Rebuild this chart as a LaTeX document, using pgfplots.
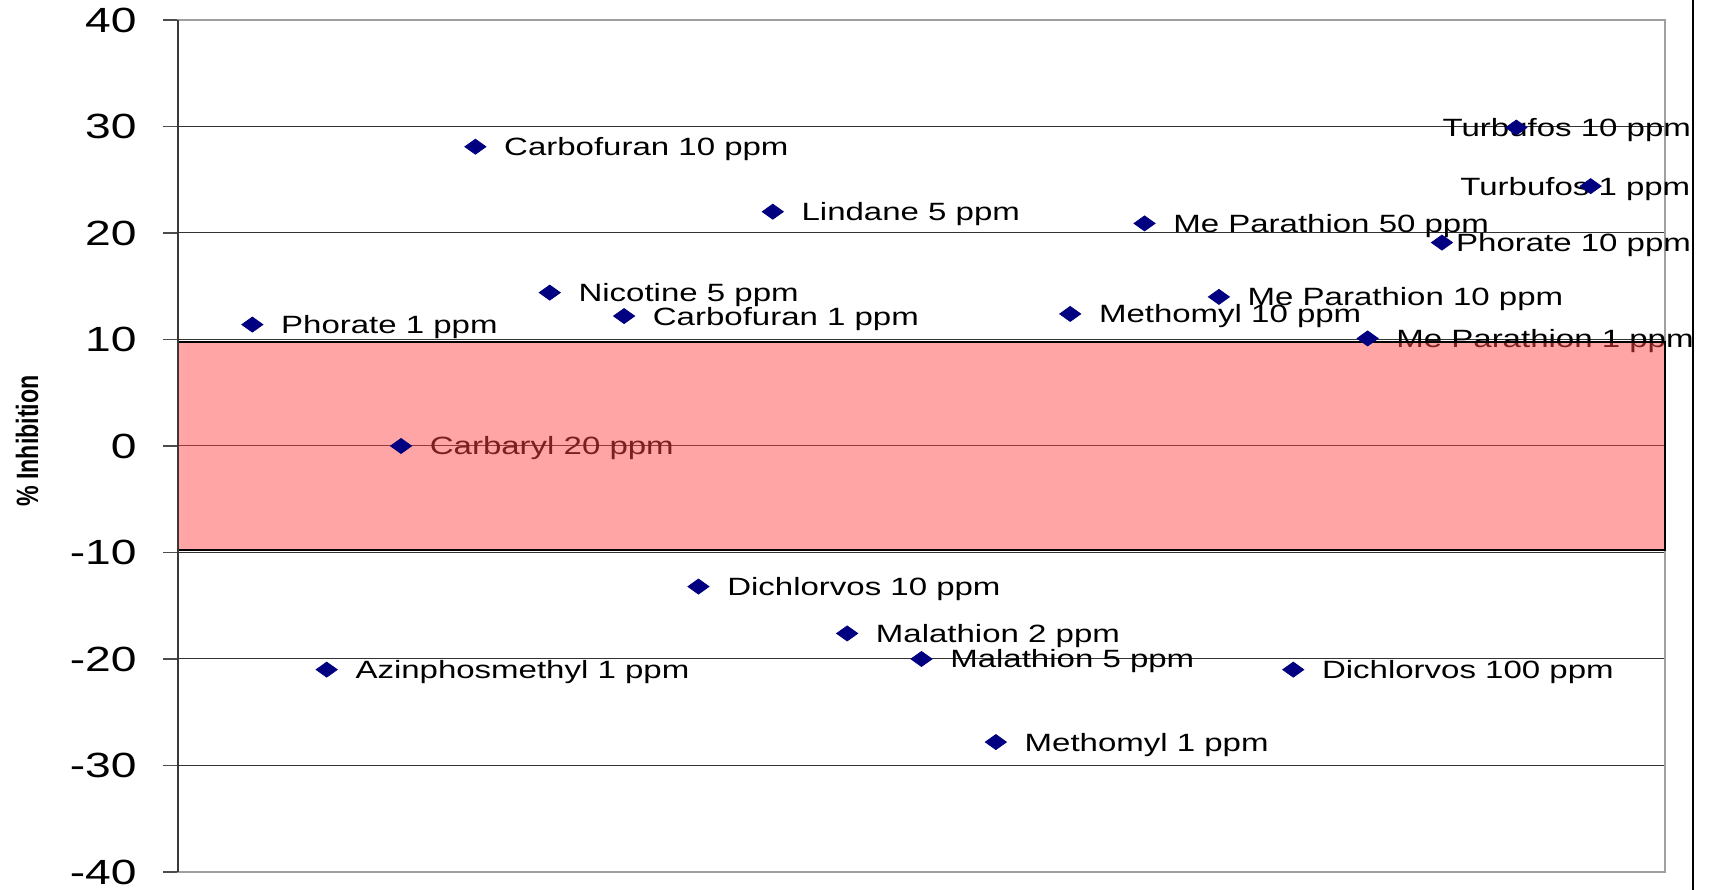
\documentclass[border=0pt]{standalone}
\usepackage{pgfplots}
\pgfplotsset{compat=1.18}
\usepackage{fontspec}
\setmainfont{Liberation Sans}
\usepackage{graphicx}
\definecolor{navy}{RGB}{0,0,128}
\definecolor{ovl}{RGB}{255,67,67}
\newcommand\hs[1]{\scalebox{1.32}[1]{#1}}
\tikzset{lbl/.style={anchor=base west, xshift=14.2pt, yshift=-4.5pt, inner sep=0pt, font=\fontsize{12.5}{13}\selectfont},
         lblr/.style={anchor=base east, yshift=-4.5pt, inner sep=0pt, font=\fontsize{12.5}{13}\selectfont}}
\begin{document}
\begin{tikzpicture}
\begin{axis}[
  scale only axis, width=743.5pt, height=426pt,
  xmin=0, xmax=20, ymin=-40, ymax=40,
  xtick=\empty,
  ytick={-40,-30,-20,-10,0,10,20,30,40},
  yticklabels={\hs{-40},\hs{-30},\hs{-20},\hs{-10},\hs{0},\hs{10},\hs{20},\hs{30},\hs{40}},
  yticklabel style={font=\fontsize{17.5}{18}\selectfont, anchor=east, inner sep=0pt, xshift=-13pt},
  ytick pos=left,
  ymajorgrids, grid style={black!80, line width=0.5pt},
  tick align=outside, major tick length=7.5pt,
  tick style={gray!60!black, line width=0.8pt},
  axis line style={gray!75, line width=1.3pt},
  ylabel={\scalebox{1}[1.33]{\fontsize{11.6}{12}\selectfont\bfseries\% Inhibition}},
  every axis y label/.style={at={([xshift=-75.5pt,yshift=2.5pt]axis description cs:0,0.5)}, rotate=90, anchor=center},
  clip=false,
]
\addplot[only marks, mark=diamond*, mark size=3.75pt, color=navy, mark options={xscale=1.87, fill=navy, draw=navy}] table {
x y
1 11.4
2 -21.0
3 0
4 28.1
5 14.4
6 12.2
7 -13.2
8 22.0
9 -17.6
10 -20.0
11 -27.8
12 12.4
13 20.9
14 14.0
15 -21.0
16 10.1
17 19.1
18 29.9
19 24.4
};
\node[lbl] at (axis cs:1,11.4) {\hs{Phorate 1 ppm}};
\node[lbl] at (axis cs:2,-21.0) {\hs{Azinphosmethyl 1 ppm}};
\node[lbl] at (axis cs:3,0) {\hs{Carbaryl 20 ppm}};
\node[lbl] at (axis cs:4,28.1) {\hs{Carbofuran 10 ppm}};
\node[lbl] at (axis cs:5,14.4) {\hs{Nicotine 5 ppm}};
\node[lbl] at (axis cs:6,12.2) {\hs{Carbofuran 1 ppm}};
\node[lbl] at (axis cs:7,-13.2) {\hs{Dichlorvos 10 ppm}};
\node[lbl] at (axis cs:8,22.0) {\hs{Lindane 5 ppm}};
\node[lbl] at (axis cs:9,-17.6) {\hs{Malathion 2 ppm}};
\node[lbl] at (axis cs:10,-20.0) {\hs{Malathion 5 ppm}};
\node[lbl] at (axis cs:11,-27.8) {\hs{Methomyl 1 ppm}};
\node[lbl] at (axis cs:12,12.4) {\hs{Methomyl 10 ppm}};
\node[lbl] at (axis cs:13,20.9) {\hs{Me Parathion 50 ppm}};
\node[lbl] at (axis cs:14,14.0) {\hs{Me Parathion 10 ppm}};
\node[lbl] at (axis cs:15,-21.0) {\hs{Dichlorvos 100 ppm}};
\node[lbl] at (axis cs:16,10.1) {\hs{Me Parathion 1 ppm}};
\node[lblr, xshift=124.7pt] at (axis cs:17,19.1) {\hs{Phorate 10 ppm}};
\node[lblr, xshift=87.5pt] at (axis cs:18,29.9) {\hs{Turbufos 10 ppm}};
\node[lblr, xshift=50pt] at (axis cs:19,24.4) {\hs{Turbufos 1 ppm}};
\fill[ovl, opacity=0.48] (axis cs:0,-9.75) rectangle (axis cs:20,9.75);
\draw[black, line width=1.2pt] (axis cs:0,-9.75) rectangle (axis cs:20,9.75);
\draw[gray!45!black, line width=1.3pt] (rel axis cs:0,0) -- (rel axis cs:0,1);
\draw[black, line width=1pt] ([xshift=14pt,yshift=-9pt]rel axis cs:1,0) -- ([xshift=14pt,yshift=10pt]rel axis cs:1,1);
\end{axis}
\pgfresetboundingbox
\useasboundingbox ([xshift=-89pt,yshift=-9pt]current axis.south west) rectangle ([xshift=23pt,yshift=10pt]current axis.north east);
\end{tikzpicture}
\end{document}
